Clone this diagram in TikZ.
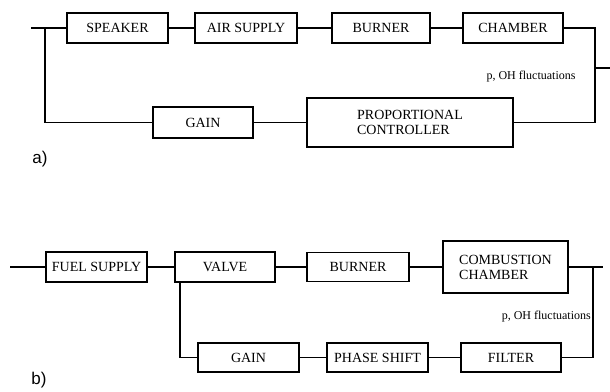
\documentclass[tikz,border=0pt]{standalone}
\usepackage{fontspec}
\setmainfont{Liberation Serif}
\newfontfamily\labfont{Liberation Sans}
\begin{document}
\begin{tikzpicture}[x=1pt,y=-1pt,
  blk/.style={draw,line width=1.1pt,rectangle,inner sep=0pt,font=\fontsize{14}{16}\selectfont},
  wire/.style={line width=1.1pt},
  fluct/.style={font=\fontsize{12}{14}\selectfont,inner sep=0pt},
  panel/.style={font=\labfont\fontsize{17}{19}\selectfont,inner sep=0pt}]
\useasboundingbox (0,0) rectangle (610,391);
% ---------- panel a ----------
\node[blk,minimum width=101pt,minimum height=30pt] (spk) at (117.5,28) {SPEAKER};
\node[blk,minimum width=102pt,minimum height=30pt] (air) at (246,28) {AIR SUPPLY};
\node[blk,minimum width=98pt,minimum height=30pt] (bura) at (381,28) {BURNER};
\node[blk,minimum width=100pt,minimum height=30pt] (cham) at (513,28) {CHAMBER};
\node[blk,minimum width=206pt,minimum height=49pt,align=left] (prop) at (410,122.5) {PROPORTIONAL\\[-1pt]CONTROLLER};
\node[blk,minimum width=100pt,minimum height=31pt] (gaina) at (203,122.5) {GAIN};
\coordinate (ina) at (31,28);
\coordinate (ja) at (45,28);
\coordinate (ra) at (595,28);
\coordinate (outa1) at (595,68);
\coordinate (outa2) at (610,68);
\draw[wire] (ina) -- (spk.west);
\draw[wire] (spk.east) -- (air.west);
\draw[wire] (air.east) -- (bura.west);
\draw[wire] (bura.east) -- (cham.west);
\draw[wire] (cham.east) -- (ra) |- (prop.east);
\draw[wire] (outa1) -- (outa2);
\draw[wire] (gaina.east) -- (prop.west);
\draw[wire] (gaina.west) -| (ja);
\node[fluct] (fla) at (531,77) {p, OH fluctuations};
\node[panel] (la) at (40,159) {a)};
% ---------- panel b ----------
\node[blk,minimum width=101pt,minimum height=30pt] (fuel) at (96.5,267) {FUEL SUPPLY};
\node[blk,minimum width=100pt,minimum height=30pt] (valve) at (225,267) {VALVE};
\node[blk,minimum width=102pt,minimum height=29pt] (burb) at (358,267) {BURNER};
\node[blk,minimum width=125pt,minimum height=52pt,align=left] (comb) at (505.5,267) {COMBUSTION\\[-1pt]CHAMBER};
\node[blk,minimum width=101pt,minimum height=29pt] (gainb) at (248.5,357.5) {GAIN};
\node[blk,minimum width=101pt,minimum height=29pt] (phase) at (377.5,357.5) {PHASE SHIFT};
\node[blk,minimum width=100pt,minimum height=29pt] (filter) at (511,357.5) {FILTER};
\coordinate (inb) at (10,267);
\coordinate (jb) at (593,267);
\coordinate (outb) at (603,267);
\coordinate (db) at (593,357.5);
\coordinate (vt) at (180,282);
\coordinate (vb) at (180,357.5);
\draw[wire] (inb) -- (fuel.west);
\draw[wire] (fuel.east) -- (valve.west);
\draw[wire] (valve.east) -- (burb.west);
\draw[wire] (burb.east) -- (comb.west);
\draw[wire] (comb.east) -- (outb);
\draw[wire,line width=1.4pt] (jb) -- (db) -- (filter.east);
\draw[wire] (filter.west) -- (phase.east);
\draw[wire] (phase.west) -- (gainb.east);
\draw[wire] (gainb.west) -- (vb) -- (vt);
\node[fluct,anchor=east] (flb) at (591,317) {p, OH fluctuations};
\node[panel] (lb) at (39,380) {b)};
\end{tikzpicture}
\end{document}
